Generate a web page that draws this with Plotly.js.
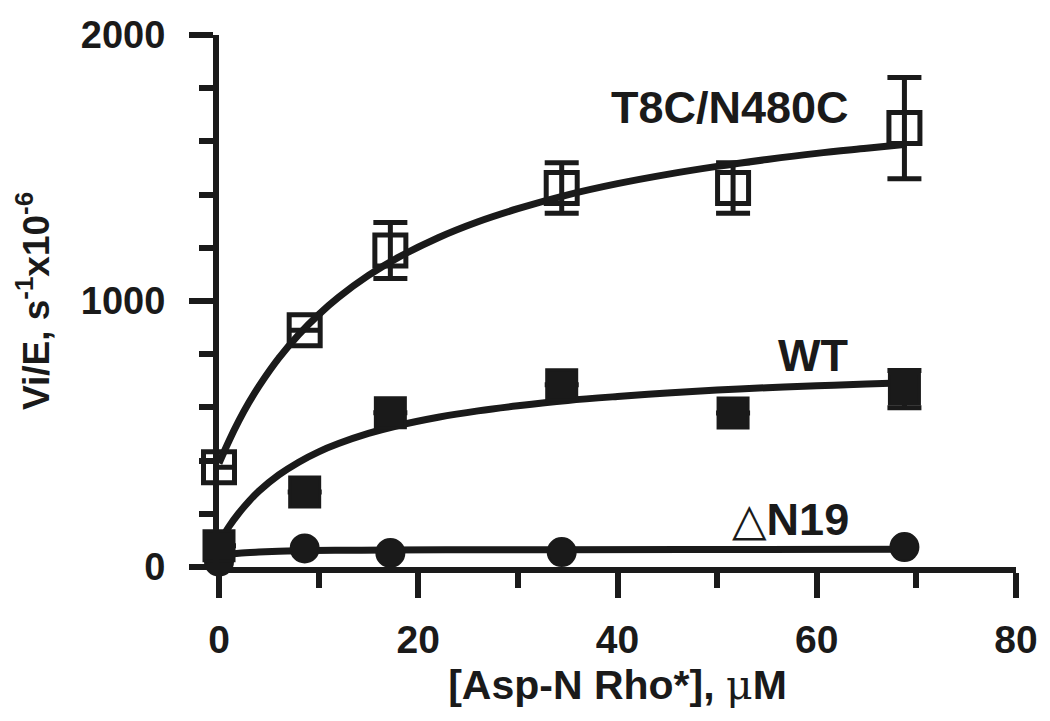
<!DOCTYPE html>
<html>
<head>
<meta charset="utf-8">
<script src="https://cdn.plot.ly/plotly-3.0.1.min.js"></script>
<style>html,body{margin:0;padding:0;background:#fff;}#chart{width:1050px;height:721px;}</style>
</head>
<body>
<div id="chart"></div>
<script>
// Measured points
const concX = [0, 8.6, 17.2, 34.4, 51.6, 68.8];
const t8cY = [375, 890, 1190, 1425, 1425, 1650];
const t8cErr = [0, 0, 105, 95, 95, 190];
const wtY = [80, 282, 580, 685, 579, 669];
const wtErr = [0, 0, 0, 0, 0, 70];
const dnX = [0, 8.6, 17.2, 34.4, 68.8];
const dnY = [20, 70, 53, 56, 75];

// Fitted curves
const fitX = [0, 1, 2, 3, 4, 6, 8, 10, 12, 15, 18, 22, 26, 30, 35, 40, 45, 50, 55, 60, 65, 69];
const t8cFit = [390, 474, 550, 618, 679, 785, 874, 949, 1014, 1096, 1164, 1238, 1298, 1347, 1399, 1441, 1476, 1506, 1532, 1555, 1574, 1589];
const wtFit = [90, 152, 203, 247, 285, 346, 394, 433, 464, 502, 532, 563, 587, 606, 626, 641, 654, 665, 674, 681, 688, 693];
const dnFitX = [0, 1, 2, 4, 6, 9, 13, 17, 25, 34, 50, 69];
const dnFit = [42, 48, 52, 56, 59, 62, 63, 64, 65, 65, 66, 67];

const xTicks = [0, 20, 40, 60, 80];
const yTicks = [0, 1000, 2000];
const labels = ['T8C/N480C', 'WT', '<span style="font-family:DejaVu Sans;font-weight:normal">△</span>N19'];

const K = '#1a1a1a';
const FONT = 'Liberation Sans, Arial, sans-serif';

const traces = [
  {x: fitX, y: t8cFit, mode: 'lines', line: {color: K, width: 7, shape: 'spline'}, hoverinfo: 'skip', cliponaxis: false},
  {x: fitX, y: wtFit, mode: 'lines', line: {color: K, width: 7, shape: 'spline'}, hoverinfo: 'skip', cliponaxis: false},
  {x: dnFitX, y: dnFit, mode: 'lines', line: {color: K, width: 7, shape: 'spline'}, hoverinfo: 'skip', cliponaxis: false},
  {x: dnX, y: dnY, mode: 'markers', marker: {symbol: 'circle', size: 28, color: K, line: {color: K, width: 2}}, cliponaxis: false},
  {x: concX, y: wtY, mode: 'markers', marker: {symbol: 'square', size: 30, color: K, line: {color: K, width: 3}},
   error_y: {type: 'data', array: wtErr, visible: true, color: K, thickness: 5, width: 17}, cliponaxis: false},
  {x: concX, y: t8cY, mode: 'markers', marker: {symbol: 'square-open', size: 31, color: K, line: {color: K, width: 5}},
   error_y: {type: 'data', array: t8cErr, visible: true, color: K, thickness: 5, width: 17}, cliponaxis: false}
];

const layout = {
  width: 1050, height: 721,
  margin: {l: 219, r: 34, t: 35, b: 154, pad: 0},
  paper_bgcolor: '#fff', plot_bgcolor: '#fff',
  showlegend: false,
  font: {family: FONT, color: K},
  xaxis: {
    range: [0, 80], tickvals: xTicks, ticktext: xTicks.map(String),
    showgrid: false, zeroline: false, showline: true, linecolor: K, linewidth: 6,
    ticks: 'outside', ticklen: 25, tickwidth: 6, tickcolor: K,
    minor: {dtick: 10, ticklen: 15, tickwidth: 6, tickcolor: K, ticks: 'outside', showgrid: false},
    tickfont: {family: FONT, size: 39, weight: 'bold', color: K},
    ticklabelstandoff: 8,
    title: {text: '[Asp-N Rho*], <span style="font-family:DejaVu Serif;font-weight:normal">μ</span>M', font: {family: FONT, size: 41, weight: 'bold', color: K}, standoff: 12}
  },
  yaxis: {
    range: [0, 2000], tickvals: yTicks, ticktext: yTicks.map(String),
    showgrid: false, zeroline: false, showline: true, linecolor: K, linewidth: 6,
    ticks: 'outside', ticklen: 24, tickwidth: 6, tickcolor: K,
    minor: {dtick: 200, ticklen: 14, tickwidth: 6, tickcolor: K, ticks: 'outside', showgrid: false},
    tickfont: {family: FONT, size: 38, weight: 'bold', color: K},
    ticklabelstandoff: 16,
    title: {text: 'Vi/E, s<sup>-1</sup>x10<sup>-6</sup>', font: {family: FONT, size: 37, weight: 'bold', color: K}, standoff: 22}
  },
  annotations: [
    {x: 51.3, y: 1726, xref: 'x', yref: 'y', text: labels[0], showarrow: false, font: {family: FONT, size: 45, weight: 'bold', color: K}},
    {x: 59.6, y: 797, xref: 'x', yref: 'y', text: labels[1], showarrow: false, font: {family: FONT, size: 45, weight: 'bold', color: K}},
    {x: 57.4, y: 180, xref: 'x', yref: 'y', text: labels[2], showarrow: false, font: {family: FONT, size: 45, weight: 'bold', color: K}}
  ]
};

Plotly.newPlot('chart', traces, layout, {displayModeBar: false, staticPlot: true});
</script>
</body>
</html>
